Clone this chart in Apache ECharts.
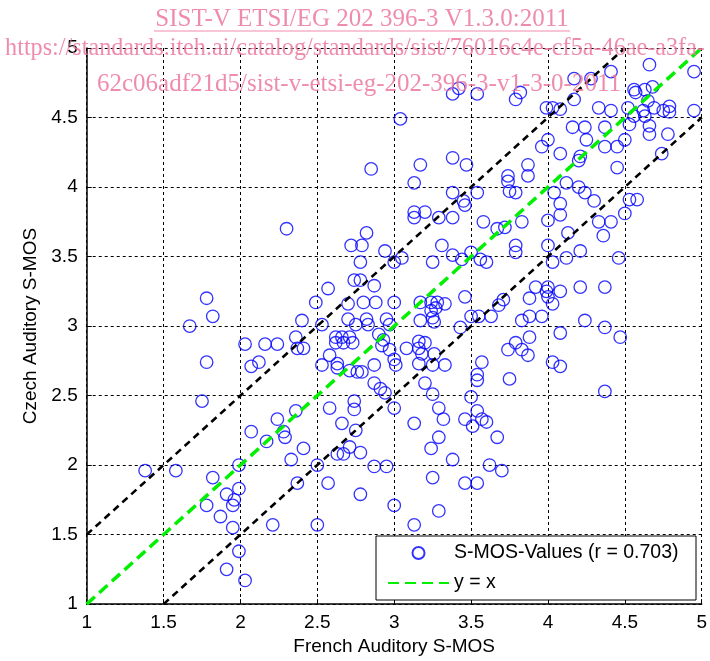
<!DOCTYPE html>
<html><head><meta charset="utf-8">
<script src="https://cdn.jsdelivr.net/npm/echarts@6/dist/echarts.min.js"></script>
<style>html,body{margin:0;padding:0;background:#fff}#c{width:710px;height:661px}</style>
</head><body><div id="c"></div>
<script>
// French auditory S-MOS (x) and Czech auditory S-MOS (y)
const frenchMos = [
2.30,3.38,3.42,3.54,3.04,2.85,3.17,3.38,3.47,3.13,3.38,3.54,3.45,3.46,3.13,3.13,3.20,3.29,3.38,3.58,3.67,3.72,3.74,3.74,3.75,3.79,2.82,
4.66,4.95,4.41,4.17,4.28,3.82,3.79,4.56,4.63,4.68,4.57,4.65,4.52,4.62,4.69,4.75,4.79,4.79,4.56,4.63,4.95,3.99,4.03,4.08,4.17,4.33,4.41,4.53,4.66,4.66,4.78,4.16,4.24,4.37,4.25,4.50,4.00,3.96,4.08,4.37,4.45,4.74,4.21,4.20,3.87,4.45,3.87,4.12,4.04,4.20,4.24,4.30,4.08,4.08,4.53,4.58,4.50,4.00,3.83,4.33,4.41,4.13,4.36,
1.78,1.82,1.67,1.78,1.75,2.03,2.16,2.24,2.07,2.12,2.24,2.36,2.37,
2.72,2.79,2.94,3.05,3.00,2.78,3.31,3.25,3.38,3.44,3.50,3.56,3.60,2.74,2.78,2.57,2.87,2.49,2.70,2.80,2.88,3.00,3.17,3.24,3.28,3.33,3.24,3.27,3.17,3.25,3.26,3.46,2.40,2.53,2.70,2.82,2.95,2.75,2.83,2.97,3.43,3.50,3.55,3.63,3.71,3.68,2.41,2.62,2.62,2.66,2.71,2.67,2.73,2.90,2.93,2.92,2.97,3.08,3.16,3.20,3.16,3.18,3.26,2.58,2.53,2.63,2.63,2.71,2.76,2.79,2.87,3.00,3.01,3.16,3.25,3.33,3.57,3.54,3.54,2.87,2.91,2.94,3.20,3.25,3.50,2.58,2.74,2.74,3.00,3.29,2.36,2.66,3.13,3.32,3.46,3.54,3.57,3.60,
3.79,3.79,4.00,4.21,4.12,4.03,4.46,3.92,4.00,4.08,3.99,4.00,4.03,3.88,4.21,4.37,3.83,3.88,3.96,4.24,4.37,4.08,4.47,3.88,3.79,3.74,3.83,3.87,4.03,4.08,3.75,4.37,
2.07,2.17,2.28,2.29,2.33,2.37,1.38,1.58,1.82,1.99,1.99,1.91,1.96,1.95,1.78,1.87,1.95,2.21,1.99,1.91,2.03,
2.75,3.51,3.67,3.29,3.24,3.38,2.41,2.63,2.67,2.71,2.78,2.50,2.57,2.87,2.95,2.78,3.00,3.25,3.29,3.13,2.50,3.46,3.54,3.62,3.70
];
const czechMos = [
3.70,4.67,4.71,4.67,4.49,4.13,4.16,4.21,4.16,4.03,3.96,3.96,3.90,3.87,3.82,3.78,3.82,3.78,3.78,3.75,3.70,3.71,4.08,4.04,3.97,3.96,3.67,
4.88,4.83,4.83,4.78,4.78,4.68,4.63,4.70,4.70,4.72,4.68,4.62,4.57,4.55,4.57,4.55,4.58,4.54,4.51,4.51,4.55,4.57,4.57,4.56,4.63,4.57,4.55,4.45,4.44,4.38,4.38,4.43,4.43,4.43,4.34,4.34,4.34,4.29,4.24,4.29,4.29,4.24,4.22,4.19,4.16,4.14,4.08,4.03,3.96,4.00,3.96,3.90,3.88,3.80,3.91,3.91,3.81,3.76,3.75,3.75,3.75,3.67,3.65,
3.20,3.07,3.00,2.74,2.46,2.87,2.87,2.87,2.71,2.74,2.33,2.92,2.84,
3.58,3.58,3.54,3.49,3.46,3.46,3.58,3.46,3.51,3.48,3.53,3.48,3.46,3.33,3.33,3.27,3.29,3.17,3.16,3.17,3.17,3.17,3.17,3.17,3.17,3.16,3.11,3.13,3.04,3.06,3.03,3.21,3.04,3.01,3.05,3.05,3.05,3.01,3.01,3.01,2.99,3.07,3.07,3.07,3.19,3.15,2.84,2.92,2.88,2.92,2.92,2.88,2.88,2.94,2.90,2.86,2.83,2.84,2.89,2.88,2.84,2.80,2.80,2.79,2.72,2.73,2.70,2.68,2.67,2.67,2.72,2.76,2.72,2.73,2.72,2.72,2.74,2.65,2.61,2.59,2.55,2.52,2.59,2.51,2.49,2.41,2.46,2.40,2.41,2.41,2.39,2.30,2.30,2.33,2.33,2.39,2.33,2.31,
3.58,3.53,3.58,3.54,3.49,3.46,3.49,3.28,3.28,3.25,3.25,3.21,3.16,3.20,3.28,3.28,3.04,3.07,3.07,3.04,2.99,2.95,2.92,2.92,2.88,2.83,2.83,2.79,2.74,2.71,2.62,2.53,
2.24,2.17,2.24,2.20,2.04,1.87,1.96,1.96,1.91,2.00,1.83,1.79,1.75,1.71,1.71,1.63,1.55,1.57,1.38,1.25,1.17,
2.25,2.28,2.20,2.20,2.12,2.04,2.12,2.08,2.08,2.13,2.09,2.00,1.87,1.99,1.99,1.79,1.71,1.91,1.67,1.57,1.57,1.87,1.87,2.00,1.96
];
const identityLine = [[1, 1], [5, 5]];
const upperBound = [[1, 1.5], [4.5, 5]];
const lowerBound = [[1.5, 1], [5, 4.5]];
const correlation = '0.703';
const xAxisName = 'French Auditory S-MOS';
const yAxisName = 'Czech Auditory S-MOS';
const scatterName = 'S-MOS-Values (r = ' + correlation + ')';
const lineName = 'y = x';
const watermark1 = 'SIST-V ETSI/EG 202 396-3 V1.3.0:2011';
const watermark2 = 'https://standards.iteh.ai/catalog/standards/sist/76016c4e-cf5a-46ae-a3fa-';
const watermark3 = '62c06adf21d5/sist-v-etsi-eg-202-396-3-v1-3-0-2011';

const points = frenchMos.map((x, i) => [x, czechMos[i]]);
const FONT = 'Liberation Sans, Arial, sans-serif';
const SERIF = 'Liberation Serif, Times New Roman, serif';
const PINK = 'rgba(236,120,158,0.85)';

function axis(name, gap) {
  return {
    type: 'value', min: 1, max: 5, interval: 0.5,
    name: name, nameLocation: 'middle', nameGap: gap,
    nameTextStyle: {fontSize: 19, color: '#000', fontFamily: FONT},
    axisLine: {show: true, onZero: false, lineStyle: {color: '#000', width: 1.5}},
    axisTick: {show: true, inside: true, length: 5, lineStyle: {color: '#000', width: 1}},
    axisLabel: {fontSize: 19, color: '#000', fontFamily: FONT, margin: 9},
    splitLine: {show: true, lineStyle: {color: '#000', type: [3, 3], width: 1}}
  };
}

const chart = echarts.init(document.getElementById('c'), null, {renderer: 'canvas'});
chart.setOption({
  animation: false,
  backgroundColor: '#fff',
  grid: {left: 86.7, top: 48, right: 6, bottom: 54, containLabel: false},
  xAxis: axis(xAxisName, 27),
  yAxis: axis(yAxisName, 42),
  legend: {
    data: [
      {name: scatterName},
      {name: lineName, itemStyle: {opacity: 0}}
    ],
    orient: 'vertical', left: 387, top: 543, padding: 0, itemGap: 10,
    itemWidth: 61, itemHeight: 12, z: 8,
    textStyle: {fontSize: 19.5, color: '#000', fontFamily: FONT, lineHeight: 20}
  },
  graphic: [
    {type: 'rect', shape: {x: 376, y: 536, width: 320, height: 64},
     style: {fill: '#fff', stroke: '#000', lineWidth: 1}, z: 6},
    {type: 'text', x: 362, y: 19, z: 20,
     style: {text: watermark1, font: '25px ' + SERIF, fill: PINK, textAlign: 'center', textVerticalAlign: 'middle'}},
    {type: 'line', shape: {x1: 154, y1: 31, x2: 570, y2: 31}, z: 20,
     style: {stroke: PINK, lineWidth: 1.2}},
    {type: 'text', x: 355, y: 49, z: 20,
     style: {text: watermark2, font: '24.2px ' + SERIF, fill: PINK, textAlign: 'center', textVerticalAlign: 'middle'}},
    {type: 'text', x: 359, y: 84, z: 20,
     style: {text: watermark3, font: '25px ' + SERIF, fill: PINK, textAlign: 'center', textVerticalAlign: 'middle'}}
  ],
  series: [
    {name: scatterName, type: 'scatter', data: points, symbol: 'circle', symbolSize: 12.5, z: 2,
     itemStyle: {color: 'rgba(0,0,0,0)', borderColor: '#0000ff', borderWidth: 1.3}},
    {name: 'upper', type: 'line', data: upperBound, symbol: 'none', z: 3,
     lineStyle: {color: '#000', width: 2.6, type: [7, 5]}},
    {name: 'lower', type: 'line', data: lowerBound, symbol: 'none', z: 3,
     lineStyle: {color: '#000', width: 2.6, type: [7, 5]}},
    {name: lineName, type: 'line', data: identityLine, symbol: 'none', z: 4,
     lineStyle: {color: '#00f000', width: 3.5, type: [11, 6]}}
  ]
});
</script></body></html>
